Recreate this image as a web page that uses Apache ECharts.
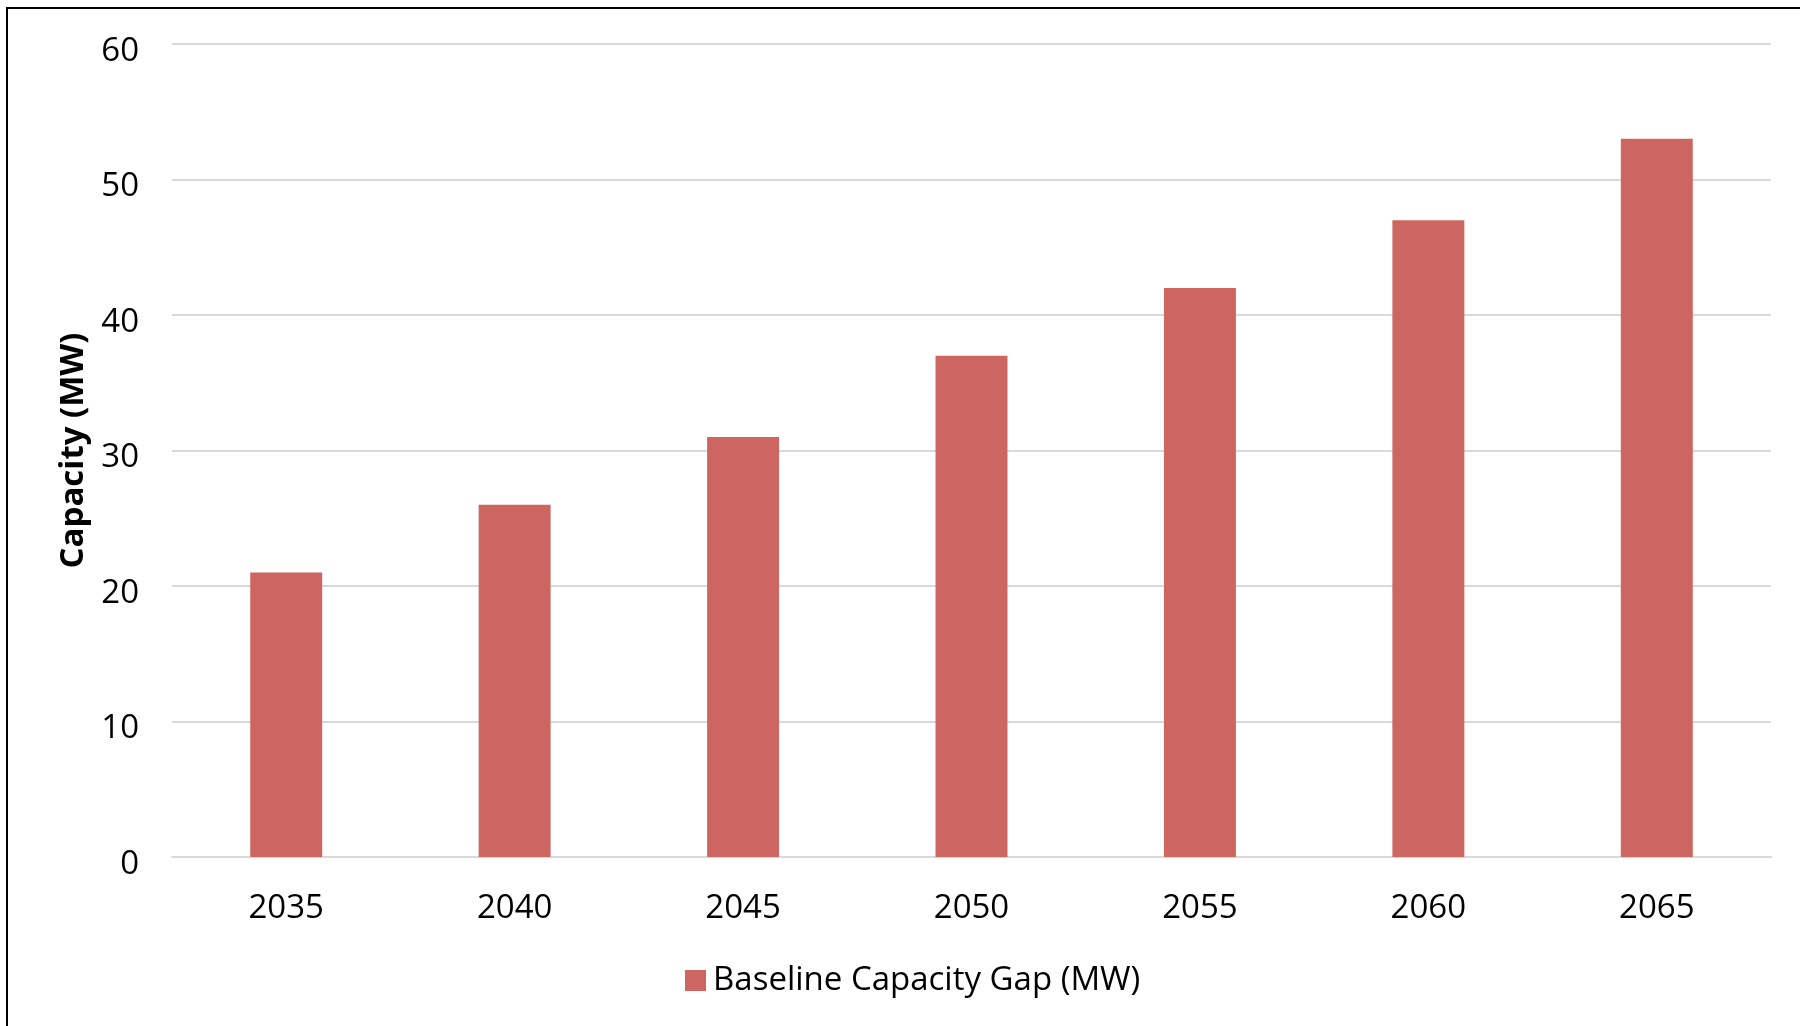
<!DOCTYPE html>
<html>
<head>
<meta charset="utf-8">
<title>Baseline Capacity Gap</title>
<script src="https://cdn.jsdelivr.net/npm/echarts@6/dist/echarts.min.js"></script>
<style>
html, body { margin: 0; padding: 0; background: #fff; }
#main { width: 1800px; height: 1026px; }
</style>
</head>
<body>
<div id="main"></div>
<script>
// data
var years = ['2035', '2040', '2045', '2050', '2055', '2060', '2065'];
var gapValues = [21, 26, 31, 37, 42, 47, 53];
var yTicks = [0, 10, 20, 30, 40, 50, 60];

var font = 'Open Sans';
var chart = echarts.init(document.getElementById('main'));

var option = {
    animation: false,
    textStyle: { fontFamily: font },
    grid: { left: 172, right: 29, top: 44, bottom: 169 },
    graphic: [{
        type: 'rect',
        shape: { x: 7, y: 8, width: 1900, height: 1100 },
        style: { fill: 'none', stroke: '#000', lineWidth: 2 },
        silent: true
    }],
    legend: {
        bottom: 24,
        left: 680,
        icon: 'rect',
        itemWidth: 21,
        itemHeight: 21,
        itemGap: 10,
        textStyle: { fontFamily: font, fontSize: 33, color: '#000', padding: [0, 0, 0, 2] },
        data: ['Baseline Capacity Gap (MW)']
    },
    xAxis: {
        type: 'category',
        data: years,
        axisLine: { show: true, lineStyle: { color: '#d9d9d9', width: 2 } },
        axisTick: { show: false },
        axisLabel: { fontFamily: font, fontSize: 33, color: '#000', margin: 35 }
    },
    yAxis: {
        type: 'value',
        min: yTicks[0],
        max: yTicks[yTicks.length - 1],
        interval: 10,
        name: 'Capacity (MW)',
        nameLocation: 'middle',
        nameGap: 82,
        nameTextStyle: { fontFamily: font, fontSize: 33, fontWeight: 'bold', color: '#000' },
        axisLine: { show: false },
        axisTick: { show: false },
        axisLabel: { fontFamily: font, fontSize: 33, color: '#000', margin: 33, verticalAlign: 'top', lineHeight: 15 },
        splitLine: { lineStyle: { color: '#d9d9d9', width: 2 } }
    },
    series: [{
        name: 'Baseline Capacity Gap (MW)',
        type: 'bar',
        data: gapValues,
        barWidth: '31.5%',
        itemStyle: { color: '#cd6660' }
    }]
};

chart.setOption(option);
</script>
</body>
</html>
